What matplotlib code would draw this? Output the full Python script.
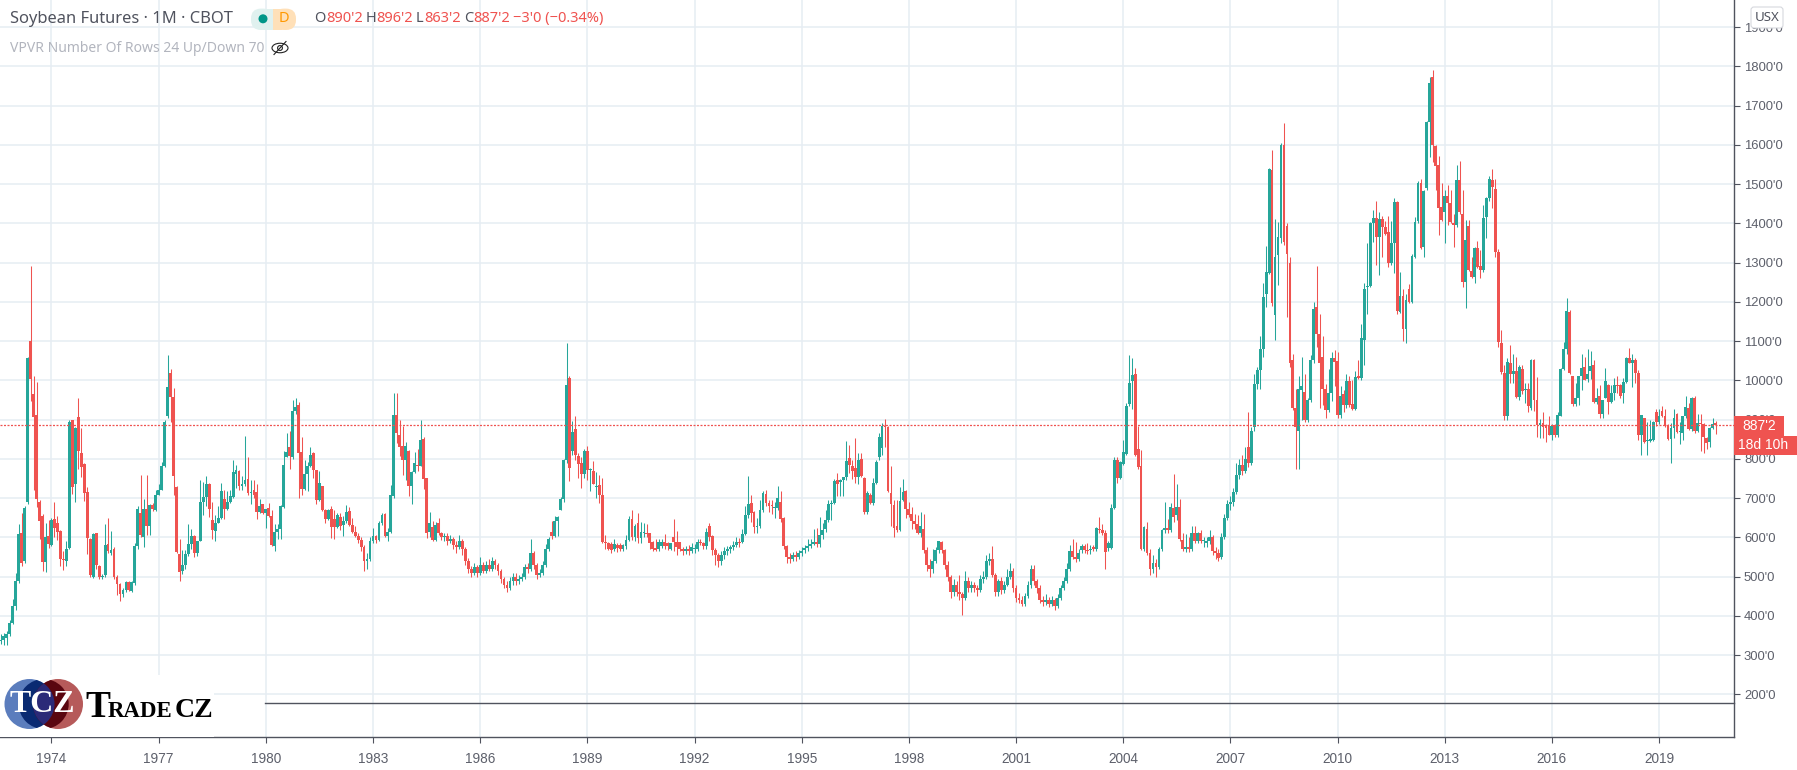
import matplotlib
matplotlib.use("Agg")
import matplotlib.pyplot as plt
from matplotlib.patches import Circle, FancyBboxPatch, Rectangle, Ellipse

plt.rcParams['font.family'] = ['Noto Sans', 'DejaVu Sans']

# monthly soybean futures, Aug 1972 .. Aug 2020; one row per calendar year
opens = [336,338,345,355,381,
 426,490,610,540,690,1100,965,913,689,655,537,603,
 580,646,636,616,546,540,573,898,736,906,816,787,
 715,595,499,610,527,500,505,584,561,570,498,482,
 456,466,487,463,484,578,661,601,672,628,682,670,
 709,722,781,909,1018,958,729,559,515,529,557,584,
 603,560,590,689,703,736,644,616,638,650,699,673,
 690,703,761,769,731,737,750,713,722,715,665,685,
 661,674,654,577,613,622,678,806,830,806,921,937,
 818,724,762,783,814,771,696,730,671,647,672,646,
 626,652,632,641,668,632,615,604,594,575,540,545,
 590,604,594,637,660,604,615,705,913,862,834,796,
 821,730,766,785,783,851,751,615,626,594,638,611,
 601,604,590,595,580,575,590,570,540,520,510,525,
 510,530,515,530,520,540,530,515,495,480,470,490,
 500,490,495,500,525,520,560,530,505,510,530,570,
 614,604,642,669,699,797,1006,821,876,808,790,762,
 821,772,768,728,734,708,589,587,583,570,581,581,
 570,578,594,647,602,638,598,612,612,610,589,572,
 570,577,589,585,570,602,588,588,570,565,570,565,
 570,570,589,587,577,628,604,568,555,540,555,565,
 570,575,580,589,589,608,656,688,664,626,630,670,
 711,687,683,674,676,691,650,577,550,545,555,550,
 560,568,572,577,584,589,583,605,621,645,686,687,
 746,742,746,753,802,782,776,753,799,751,666,709,
 687,738,806,827,884,881,714,683,628,619,696,718,
 673,660,642,634,610,622,567,530,520,540,567,588,
 567,530,500,460,480,460,455,445,490,470,480,470,
 465,495,500,540,545,505,460,490,465,480,500,515,
 470,445,440,430,450,480,520,490,470,440,435,440,
 430,440,425,445,470,490,520,565,550,545,568,577,
 568,567,575,571,622,618,610,573,573,675,796,752,
 786,813,940,999,1015,826,782,571,622,560,520,535,
 525,571,620,624,620,675,656,677,594,571,575,571,
 612,592,612,590,585,590,600,565,560,550,600,650,
 685,690,715,760,785,770,830,790,880,990,1026,1081,
 1221,1274,1535,1166,1319,1362,1600,1393,1300,1053,930,870,
 975,971,900,949,1052,1186,1119,1060,977,924,967,1058,
 1049,911,965,937,998,939,928,1010,1005,1104,1238,1240,
 1402,1413,1364,1411,1390,1378,1298,1349,1455,1175,1215,1132,
 1232,1200,1315,1407,1504,1340,1489,1657,1774,1597,1549,1442,
 1430,1470,1451,1400,1396,1510,1425,1250,1393,1278,1264,1336,
 1291,1280,1417,1464,1510,1487,1328,1094,1020,910,1045,1015,
 1023,958,1030,975,978,930,1053,951,886,892,885,883,
 862,887,860,910,1030,1079,1174,1010,941,955,1010,1034,
 1004,1023,1038,944,961,915,955,989,944,968,987,987,
 968,997,1056,1045,1051,1019,862,903,845,845,847,920,
 894,923,910,883,851,879,915,869,866,908,930,876,
 955,870,892,888,853,842,879,890.25]

closes = [338,350,355,381,426,
 489,608,535,676,1057,1004,907,697,642,537,600,583,
 644,623,614,544,542,570,894,729,878,820,780,714,
 599,504,608,531,499,500,580,565,567,499,482,456,
 466,487,466,487,578,672,606,672,628,682,672,709,
 722,781,894,984,958,756,563,512,529,557,584,603,
 560,590,689,702,736,673,618,638,650,718,673,689,
 705,766,771,731,737,746,713,715,708,665,679,661,
 672,654,580,613,622,679,784,818,808,921,932,815,
 724,762,783,811,771,696,739,669,647,671,626,626,
 658,630,641,666,632,615,603,594,575,540,545,590,
 604,594,637,658,604,615,709,913,866,830,796,834,
 730,766,790,781,847,750,610,637,594,632,611,601,
 604,590,595,580,575,590,570,540,520,510,525,510,
 530,515,530,520,540,530,515,495,480,470,490,500,
 490,495,500,525,520,560,530,505,510,530,570,595,
 604,642,653,699,797,989,778,868,811,788,762,821,
 771,774,737,728,708,589,585,570,568,583,572,570,
 581,594,647,602,629,598,615,615,608,587,570,568,
 588,588,577,577,585,588,575,570,565,570,565,575,
 570,589,585,577,613,602,568,555,540,555,565,570,
 575,580,589,585,608,656,686,662,626,630,670,713,
 687,681,681,676,700,648,577,550,545,555,550,560,
 565,572,577,584,589,583,605,620,645,686,687,744,
 736,746,753,795,785,770,753,796,757,666,713,687,
 738,793,857,884,881,717,685,623,619,694,715,673,
 656,641,634,612,630,567,530,520,540,567,590,567,
 530,500,460,480,460,455,445,490,470,480,470,465,
 495,500,540,545,505,460,490,465,480,500,515,470,
 445,440,430,450,480,520,490,470,440,435,440,430,
 440,425,445,470,490,520,565,550,545,560,577,568,
 565,570,571,624,619,611,562,585,675,796,752,792,
 817,936,994,1013,810,779,571,626,560,520,535,525,
 571,620,624,620,677,651,677,596,571,575,571,612,
 592,612,590,590,590,600,565,560,548,600,650,685,
 690,715,760,785,770,800,790,870,990,1026,1080,1213,
 1275,1538,1196,1313,1364,1600,1353,1323,1043,930,880,979,
 985,900,951,1053,1183,1118,1043,977,924,967,1058,1047,
 911,960,937,998,937,928,1009,1007,1107,1234,1240,1402,
 1413,1364,1410,1391,1374,1298,1349,1455,1177,1215,1130,1206,
 1200,1317,1404,1504,1338,1483,1657,1758,1600,1547,1438,1408,
 1470,1451,1404,1396,1510,1430,1250,1357,1281,1264,1336,1289,
 1281,1413,1464,1512,1493,1328,1098,1022,910,1047,1015,1023,
 958,1033,972,977,934,1051,951,886,892,881,879,862,
 883,860,913,1030,1079,1176,1019,941,955,1010,1032,1002,
 1015,1036,944,955,915,949,999,944,968,987,985,961,
 997,1056,1045,1051,1019,862,911,842,845,851,894,894,
 908,908,883,851,879,904,869,869,908,932,876,955,
 870,892,889,855,841,879,890,887.25]

highs = [354,357,362,390,443,
 510,634,663,680,1060,1291,1011,996,695,660,637,644,
 650,689,654,620,565,590,898,900,880,955,878,790,
 729,598,612,612,530,506,634,650,616,575,505,485,
 470,490,490,490,586,680,758,697,758,685,687,722,
 737,793,900,1064,1029,981,732,595,567,567,634,622,
 606,592,746,740,756,738,691,657,680,739,720,718,
 722,797,784,773,757,858,804,745,747,736,697,686,
 672,688,670,634,634,682,819,866,870,949,956,945,
 857,798,793,830,817,773,768,732,672,673,680,670,
 661,662,654,683,677,650,630,610,600,580,560,600,
 625,606,643,662,662,625,734,968,968,900,883,843,
 822,768,817,825,900,855,752,665,642,640,649,615,
 612,612,605,600,590,605,595,575,548,528,535,530,
 550,538,540,545,550,545,535,520,500,490,498,510,
 510,505,510,532,535,595,565,535,520,540,582,602,
 642,655,655,702,800,1094,1012,897,909,816,806,824,
 834,778,795,767,759,751,607,589,589,595,585,585,
 583,607,655,670,635,662,640,637,634,612,590,597,
 597,597,608,589,587,647,617,589,575,578,580,585,
 582,597,595,589,623,638,605,572,560,565,575,578,
 580,590,600,598,622,680,757,708,668,650,696,718,
 721,695,695,689,731,717,652,580,560,562,565,568,
 575,580,595,595,621,624,651,638,670,695,696,750,
 763,750,755,846,836,796,854,815,815,755,717,713,
 751,797,866,891,901,883,782,696,696,728,748,722,
 691,677,660,657,666,660,575,545,570,575,592,592,
 570,540,505,495,490,505,460,515,498,490,487,478,
 505,515,555,560,578,510,495,498,490,520,535,522,
 480,458,450,458,490,530,530,495,478,452,455,448,
 450,445,455,480,500,535,581,596,588,570,582,582,
 585,580,580,626,651,635,618,590,684,806,806,794,
 847,942,1064,1057,1031,885,823,630,639,570,555,545,
 575,622,690,647,687,762,736,697,611,608,600,630,
 630,615,620,600,602,620,605,575,570,610,660,695,
 705,725,790,800,810,830,920,880,1017,1034,1113,1247,
 1342,1540,1587,1410,1404,1605,1656,1400,1313,1067,979,1012,
 1060,1017,955,1064,1200,1291,1170,1113,990,1028,1073,1077,
 1073,985,975,1017,1010,1000,1024,1053,1143,1247,1349,1404,
 1434,1457,1430,1418,1405,1419,1406,1464,1458,1277,1233,1220,
 1245,1323,1415,1509,1512,1485,1660,1772,1791,1600,1571,1502,
 1485,1498,1485,1425,1549,1559,1486,1408,1408,1315,1340,1356,
 1332,1447,1468,1520,1538,1512,1335,1128,1039,1058,1089,1068,
 1060,1040,1040,994,994,1054,1054,1009,902,919,888,908,
 890,890,919,1032,1098,1210,1178,1010,994,1012,1066,1060,
 1080,1074,1051,980,989,950,1032,990,989,1006,1011,990,
 1006,1060,1083,1068,1057,1027,912,905,895,898,896,926,
 927,936,927,890,891,927,918,893,909,960,942,957,
 961,914,914,891,856,882,904,896.25]

lows = [328,325,325,350,380,
 416,485,527,535,685,947,720,678,595,515,512,573,
 577,601,593,527,516,527,570,710,690,775,754,693,
 557,499,497,520,495,495,500,560,555,495,453,437,
 449,460,463,460,480,570,601,576,607,607,668,668,
 707,720,779,903,894,707,560,490,508,520,553,570,
 549,553,590,657,680,652,595,591,636,648,646,670,
 688,701,725,720,720,730,708,686,700,648,663,659,
 625,652,578,566,596,596,676,804,775,800,915,700,
 709,722,717,780,752,686,694,667,637,645,598,595,
 624,620,603,637,630,612,600,585,565,515,520,540,
 585,585,590,632,600,592,612,700,840,807,760,747,
 705,686,764,768,782,723,598,602,590,590,605,594,
 590,580,585,570,560,570,555,530,510,500,505,500,
 505,510,510,515,515,520,505,485,470,460,465,480,
 480,482,490,495,510,515,520,495,498,505,525,565,
 595,600,604,669,689,790,744,811,798,752,727,752,
 745,719,735,700,687,587,570,567,560,565,562,565,
 565,570,590,594,590,585,585,600,600,570,565,565,
 565,572,570,568,568,565,555,565,555,558,555,560,
 560,565,580,570,570,590,555,530,525,530,545,555,
 560,568,575,575,585,605,650,640,612,610,625,665,
 680,665,660,650,670,640,570,535,535,540,540,545,
 552,560,565,572,580,575,575,595,615,640,645,685,
 705,705,705,745,765,750,738,735,755,660,660,685,
 683,735,797,810,830,715,630,600,615,617,692,650,
 652,622,622,608,600,560,515,500,510,535,560,560,
 520,490,445,452,450,440,403,440,462,462,462,450,
 460,485,495,530,498,450,452,455,458,475,495,460,
 435,432,425,425,445,472,480,458,432,425,428,422,
 425,415,420,440,465,485,515,545,538,540,560,560,
 558,558,565,565,610,605,520,565,570,672,739,750,
 785,810,935,928,808,775,568,565,555,505,510,500,
 520,565,612,612,615,640,645,590,565,562,562,565,
 585,585,585,575,575,582,555,545,540,545,595,645,
 670,680,710,750,760,765,780,785,870,979,979,1060,
 1186,1270,1190,1104,1243,1350,1345,1162,1035,925,775,775,
 900,895,895,945,1045,1085,930,937,905,920,947,985,
 905,905,920,930,932,925,925,1003,1000,1039,1170,1238,
 1353,1294,1268,1315,1370,1288,1295,1274,1170,1172,1101,1094,
 1198,1198,1312,1400,1335,1315,1485,1570,1557,1485,1370,1405,
 1350,1396,1400,1340,1390,1425,1237,1185,1278,1260,1247,1287,
 1260,1277,1363,1458,1440,1313,1084,1017,900,900,994,994,
 955,950,965,943,919,925,921,855,853,853,842,860,
 849,857,855,908,1027,1068,1015,934,934,938,975,1000,
 995,1003,943,940,904,904,954,915,942,950,968,955,
 943,994,1043,983,993,847,809,840,811,843,845,885,
 890,906,882,849,790,853,866,839,849,903,874,872,
 867,868,819,816,826,830,877,863.25]

year_labels = ['1974','1977','1980','1983','1986','1989','1992','1995',
               '1998','2001','2004','2007','2010','2013','2016','2019']
year_index = [17,53,89,125,161,197,233,269,305,341,377,413,449,485,521,557]
price_ticks = [200,300,400,500,600,700,800,900,1000,1100,1200,1300,1400,
               1500,1600,1700,1800,1900]
price_labels = ["200'0","300'0","400'0","500'0","600'0","700'0","800'0","900'0",
                "1000'0","1100'0","1200'0","1300'0","1400'0","1500'0","1600'0",
                "1700'0","1800'0","1900'0"]
last_price = 887.25

assert len(opens) == len(closes) == len(highs) == len(lows), (len(opens), len(closes), len(highs), len(lows))

UP, DOWN = '#26a69a', '#ef5350'
GRID = '#e6edf3'
AXIS = '#50535e'
TEXT = '#5d606b'
W, H = 1797, 770
AX_R, AX_B = 1733.5, 737.3

fig = plt.figure(figsize=(W/100, H/100), dpi=100, facecolor='white')
ax = fig.add_axes([0, 1-AX_B/H, AX_R/W, AX_B/H])
# scales: 2.977 px per month with Jan 1974 at x=51.5; 0.3926 px per price unit with 1800 at y=66.3
ax.set_xlim(17-51.5/2.977, 17+(AX_R-51.5)/2.977)
ax.set_ylim(1800-(AX_B-66.3)/0.3926, 1800+66.3/0.3926)

ax.set_axisbelow(True)
ax.grid(True, color=GRID, lw=1.1)
ax.set_xticks(year_index, year_labels, family='Liberation Sans', fontsize=9.8)
ax.set_yticks(price_ticks, price_labels, family='Liberation Sans', fontsize=9.4)
ax.yaxis.tick_right()
ax.tick_params(axis='both', length=4.3, width=0.8, color=AXIS, labelcolor=TEXT)
ax.tick_params(axis='y', pad=3.2)
ax.tick_params(axis='x', pad=6)
for s in ('top', 'left'):
    ax.spines[s].set_visible(False)
for s in ('right', 'bottom'):
    ax.spines[s].set_color(AXIS)
    ax.spines[s].set_linewidth(1.0)

xs = list(range(len(opens)))
colors = [UP if c >= o else DOWN for o, c in zip(opens, closes)]
ax.vlines(xs, lows, highs, colors=colors, lw=0.75, zorder=3)
for x, o, c, col in zip(xs, opens, closes, colors):
    lo, hi = min(o, c), max(o, c)
    if hi - lo < 2.5:
        hi = lo + 2.5
    ax.bar(x, hi-lo, bottom=lo, width=0.95, color=col, lw=0, zorder=4)

ax.axhline(last_price, color=DOWN, lw=0.9, ls=(0, (1.6, 1.2)), zorder=5)

# pixel-coordinate overlay for the chart's furniture
ov = fig.add_axes([0, 0, 1, 1], zorder=10)
ov.set_xlim(0, W); ov.set_ylim(H, 0); ov.axis('off'); ov.patch.set_alpha(0)

ov.text(9.6, 18.6, "Soybean Futures · 1M · CBOT", fontsize=11.9, color=AXIS, va='center')
ov.add_patch(FancyBboxPatch((274, 8.6), 22, 21.4, boxstyle="round,pad=0,rounding_size=10", fc='#ffe0b8', ec='none'))
ov.add_patch(Rectangle((272, 8.6), 10, 21.4, fc='#ffe0b8', ec='none'))
ov.add_patch(FancyBboxPatch((251, 8.6), 22, 21.4, boxstyle="round,pad=0,rounding_size=10", fc='#e0f1ef', ec='none'))
ov.add_patch(Rectangle((262, 8.6), 11, 21.4, fc='#e0f1ef', ec='none'))
ov.add_patch(Circle((263, 18.8), 4.5, fc='#009688', ec='none'))
ov.text(283.5, 18.6, "D", fontsize=10.5, color='#ff9800', va='center', ha='center')

for x, s, c in [(314, "O", AXIS), (326, "890'2", DOWN), (366, "H", AXIS), (376, "896'2", DOWN),
                (416, "L", AXIS), (424, "863'2", DOWN), (464, "C", AXIS), (473, "887'2", DOWN),
                (513, "−3'0 (−0.34%)", DOWN)]:
    ov.text(x, 18.6, s, fontsize=10.5, color=c, va='center')

ov.text(9.6, 48, "VPVR Number Of Rows 24 Up/Down 70", fontsize=10.05, color='#b2b5be', va='center')
ov.add_patch(Ellipse((280, 48), 16, 9.5, fc='none', ec='#222222', lw=0.8))
ov.add_patch(Circle((280, 48), 2.4, fc='none', ec='#222222', lw=0.8))
ov.plot([274, 286], [54.5, 41.5], color='#222222', lw=0.8)

ov.add_patch(FancyBboxPatch((1751, 7), 32, 21, boxstyle="round,pad=0,rounding_size=3", fc='white', ec='#d6d8de', lw=0.8))
ov.text(1767, 17.5, "USX", fontsize=9.6, color=AXIS, ha='center', va='center')

ov.add_patch(Rectangle((1733.5, 416), 50, 19.5, fc=DOWN, ec='none'))
ov.text(1742, 425.5, "887'2", fontsize=10, family='Liberation Sans', color='white', va='center')
ov.add_patch(Rectangle((1733.5, 435.5), 63, 19.5, fc=DOWN, ec='none'))
ov.text(1738.5, 445, "18d 10h", fontsize=10, family='Liberation Sans', color='white', va='center')

ov.plot([265, AX_R], [702.7, 702.7], color=AXIS, lw=1.0)

# logo
ov.add_patch(Rectangle((0, 675), 214, 61.5, fc='white', ec='none'))
blue = Circle((29.5, 704), 25, fc='#5b7dbd', ec='none')
red = Circle((58, 704), 25, fc='#b65a5a', ec='none')
ov.add_patch(blue); ov.add_patch(red)
mid = Circle((43.7, 704), 25, fc='#0a2a72', ec='none'); ov.add_patch(mid)
mid.set_clip_path(blue)
mid2 = Circle((43.7, 704), 25, fc='#5a0610', ec='none'); ov.add_patch(mid2)
mid2.set_clip_path(red)
lens = Circle((29.5, 704), 25, fc='#2b2a78', ec='none'); ov.add_patch(lens)
lens.set_clip_path(red)
ov.text(42, 705, "TCZ", fontsize=23, family='Liberation Serif', weight='bold', color='white', ha='center', va='center')
kw = dict(family='Liberation Serif', weight='bold', color='black', va='baseline')
ov.text(85, 717, "T", fontsize=27, **kw)
ov.text(108, 717, "RADE", fontsize=16.5, **kw)
ov.text(175, 717, "CZ", fontsize=20, **kw)

fig.savefig('out.png', dpi=100)
